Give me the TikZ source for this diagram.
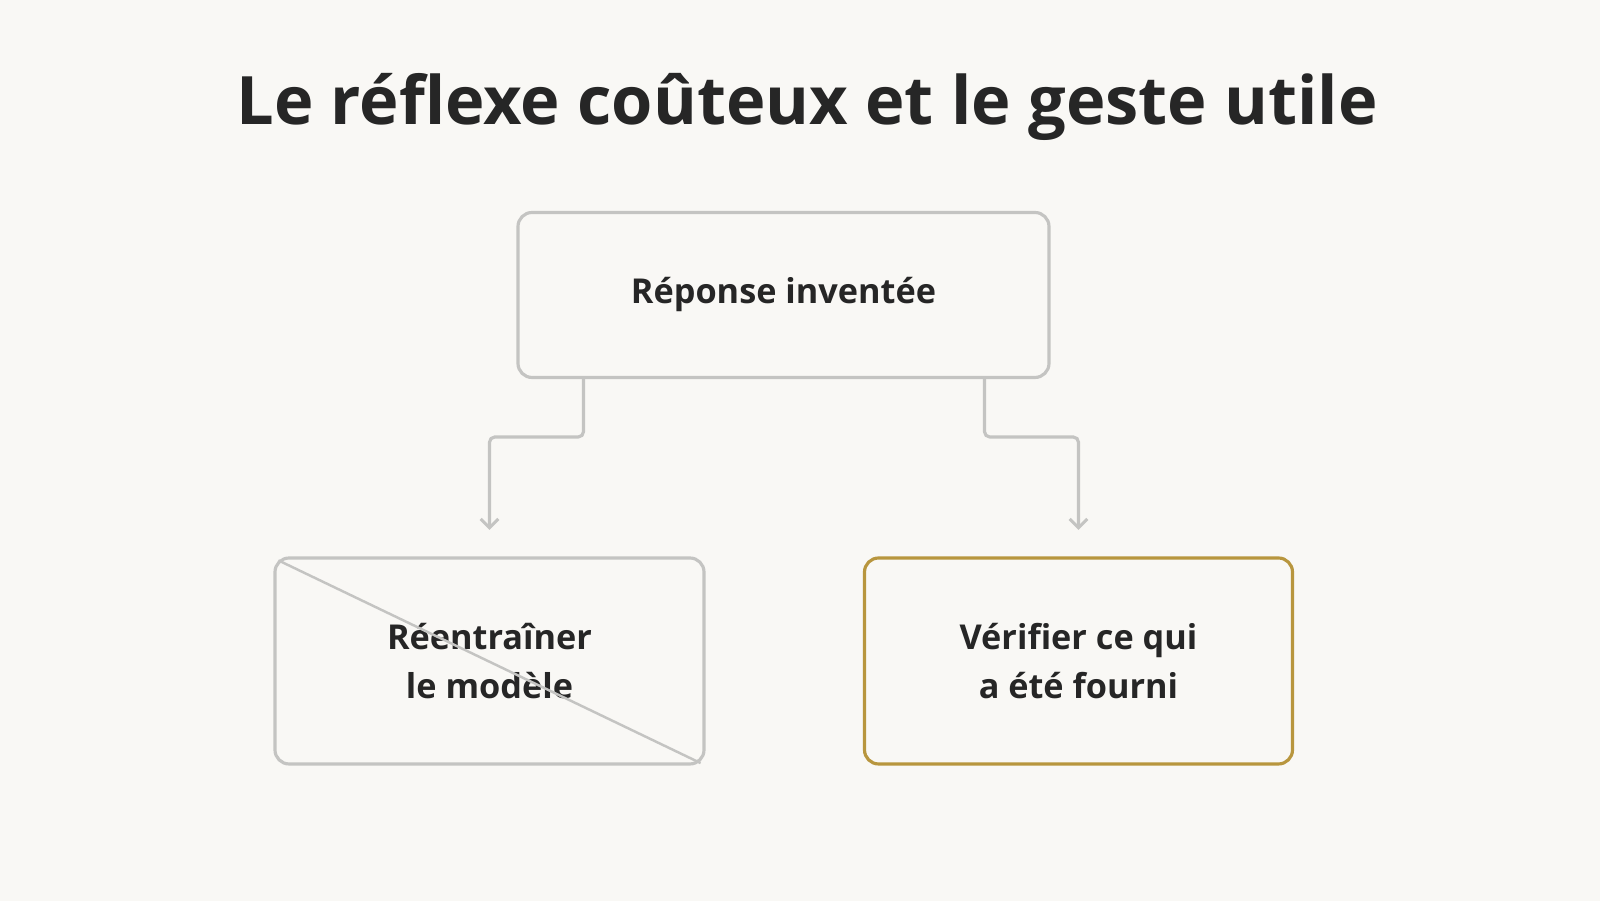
\documentclass[tikz,border=0pt]{standalone}
\usepackage{fontspec}
\setmainfont{Open Sans}
\usetikzlibrary{positioning,arrows.meta}
\definecolor{bgc}{HTML}{F9F8F5}
\definecolor{boxgray}{HTML}{C4C4C2}
\definecolor{gold}{HTML}{B8963E}
\definecolor{ink}{HTML}{262626}
\begin{document}
\begin{tikzpicture}
                    [box/.style={rectangle, rounded corners=8pt,
                        draw=boxgray, line width=1.8pt,
                        text=ink, align=center,
                        font=\fontsize{19.5}{28}\selectfont\bfseries},
                    good/.style={box, draw=gold},
                    link/.style={draw=boxgray, line width=1.8pt,
                        rounded corners=3pt, -{Straight Barb[length=5pt,width=10pt]}}]

                    \fill[bgc] (0,0) rectangle (32,18.02);
                    \node[text=ink, font=\fontsize{38}{44}\selectfont\bfseries]
                        (title) at (16.14,15.88) {Le réflexe coûteux et le geste utile};
                    \node[box, minimum width=10.62cm, minimum height=3.3cm]
                        (src) at (15.67,12.12) {Réponse inventée};
                    \node[box, minimum width=8.58cm, minimum height=4.12cm]
                        (retrain) at (9.79,4.8) {Réentraîner\\le modèle};
                    \node[good, minimum width=8.56cm, minimum height=4.12cm]
                        (check) at (15.67+5.9,4.8) {Vérifier ce qui\\a été fourni};
                    % strike-through of the costly reflex
                    \draw[boxgray, line width=1.4pt]
                        ([shift={(0.1,-0.08)}]retrain.north west)
                        -- ([shift={(-0.1,0.05)}]retrain.south east);
                    \coordinate (lend) at (9.79,7.42);
                    \coordinate (rend) at (21.57,7.42);
                    \draw[link] (11.67,10.47) |- (10.8,9.28) -| (lend);
                    \draw[link] (19.69,10.47) |- (20.5,9.28) -| (rend);
                \end{tikzpicture}
\end{document}
